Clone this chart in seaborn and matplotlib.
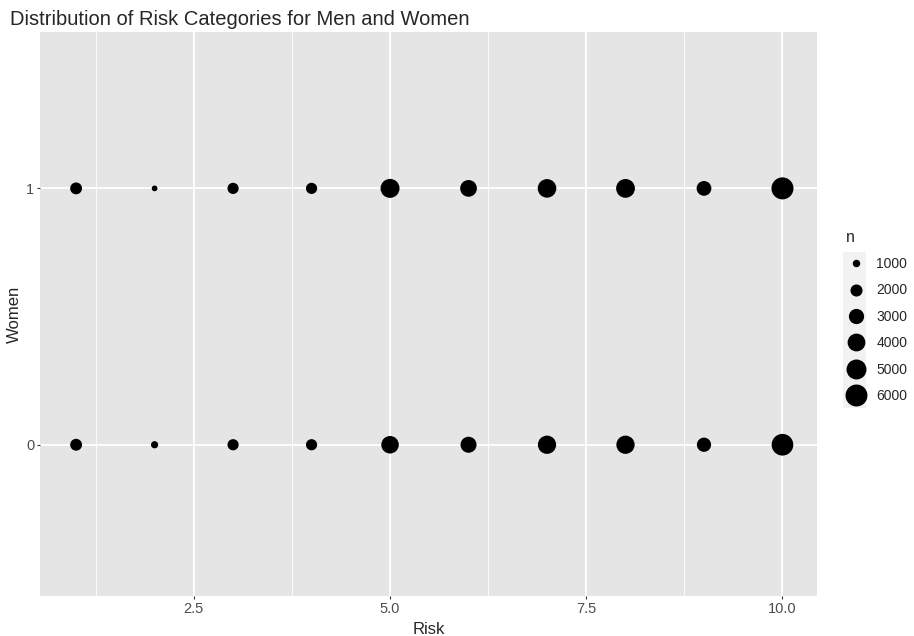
import numpy as np
import pandas as pd
import seaborn as sns
import matplotlib.pyplot as plt
from matplotlib.lines import Line2D
from matplotlib.patches import Rectangle

# --- DATA ---
risk = [1, 2, 3, 4, 5, 6, 7, 8, 9, 10]
n_women = [2350, 950, 2150, 2150, 5200, 4150, 5000, 5100, 3350, 6800]
n_men = [2350, 1200, 2150, 2150, 4500, 3850, 4850, 4850, 3150, 6600]
legend_breaks = [1000, 2000, 3000, 4000, 5000, 6000]

df = pd.DataFrame({
    "Risk": risk + risk,
    "Women": [0] * len(risk) + [1] * len(risk),
    "n": n_men + n_women,
})

# --- STYLE ---
sns.set_theme(style="darkgrid", rc={
    "axes.facecolor": "#E5E5E5",
    "grid.color": "white",
    "axes.edgecolor": "#E5E5E5",
})
plt.rcParams["font.family"] = ["Liberation Sans", "DejaVu Sans"]

SIZE_RANGE = (17, 251)
size_norm = (min(df["n"]), max(df["n"]))

def n_to_area(v):
    t = (v - size_norm[0]) / (size_norm[1] - size_norm[0])
    return SIZE_RANGE[0] + t * (SIZE_RANGE[1] - SIZE_RANGE[0])

fig = plt.figure(figsize=(9.14, 6.36), dpi=100)
ax = fig.add_axes([40 / 914, 1 - 596 / 636, 777 / 914, 564 / 636])

sns.scatterplot(data=df, x="Risk", y="Women", size="n", sizes=SIZE_RANGE,
                size_norm=size_norm, color="black", edgecolor="none",
                legend=False, ax=ax, zorder=3)

ax.set_xlim(0.54, 10.44)
ax.set_ylim(-0.59, 1.61)
ax.set_xticks([2.5, 5.0, 7.5, 10.0])
ax.set_xticklabels(["2.5", "5.0", "7.5", "10.0"])
ax.set_xticks([1.25, 3.75, 6.25, 8.75], minor=True)
ax.set_yticks([0, 1])
ax.set_yticklabels(["0", "1"])
ax.grid(which="major", color="white", linewidth=1.3)
ax.grid(which="minor", axis="x", color="white", linewidth=0.6)
ax.tick_params(which="major", length=2.5, width=0.8, color="#333333",
               labelsize=10.5, labelcolor="#4D4D4D", pad=1.5,
               bottom=True, left=True)
ax.tick_params(which="minor", length=0)
for s in ax.spines.values():
    s.set_visible(False)

ax.set_xlabel("Risk", fontsize=12, labelpad=4.5)
ax.set_ylabel("Women", fontsize=12, labelpad=3)

fig.text(10 / 914, 1 - 25 / 636, "Distribution of Risk Categories for Men and Women",
         fontsize=14.5, ha="left", va="baseline")

# --- LEGEND ---
fig.patches.append(Rectangle((843 / 914, 1 - 408 / 636), 23 / 914, 156 / 636,
                             transform=fig.transFigure, facecolor="#F2F2F2",
                             edgecolor="none", zorder=0))
handles = [Line2D([], [], marker="o", linestyle="", color="black",
                  markersize=np.sqrt(n_to_area(b))) for b in legend_breaks]
leg = fig.legend(handles, [str(b) for b in legend_breaks], title="n",
                 loc="upper left", bbox_to_anchor=(836 / 914, 1 - 220 / 636),
                 frameon=False, fontsize=10, title_fontsize=11.5,
                 labelspacing=0.89, handletextpad=0.7, handlelength=1.5,
                 borderpad=0.2)
leg._legend_box.align = "left"

fig.savefig("out.png", dpi=100)
